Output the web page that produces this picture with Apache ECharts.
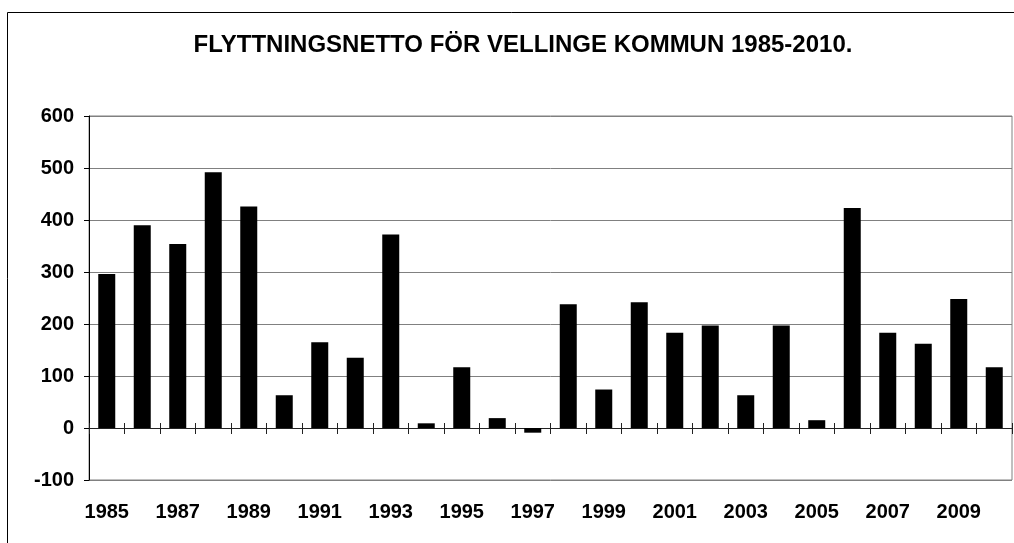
<!DOCTYPE html>
<html>
<head>
<meta charset="utf-8">
<script src="https://cdn.jsdelivr.net/npm/echarts@6/dist/echarts.min.js"></script>
<style>
  html, body { margin: 0; padding: 0; background: #fff; }
  #chart { width: 1014px; height: 543px; }
</style>
</head>
<body>
<div id="chart"></div>
<script>
// flyttningsnetto per år
var years = ['1985', '1986', '1987', '1988', '1989', '1990', '1991', '1992', '1993', '1994',
    '1995', '1996', '1997', '1998', '1999', '2000', '2001', '2002', '2003', '2004',
    '2005', '2006', '2007', '2008', '2009', '2010'];
var netto = [296, 390, 354, 492, 426, 63, 165, 135, 372, 9,
    117, 19, -9, 238, 74, 242, 183, 197, 63, 197,
    15, 423, 183, 162, 248, 117];
var yTicks = { min: -100, max: 600, step: 100 };

var font = '"Liberation Sans", Arial, Helvetica, sans-serif';

var myChart = echarts.init(document.getElementById('chart'));
var option = {
    backgroundColor: '#fff',
    animation: false,
    title: {
        text: 'FLYTTNINGSNETTO FÖR VELLINGE KOMMUN 1985-2010.',
        left: 518,
        top: 28,
        textAlign: 'center',
        textStyle: {
            fontFamily: font,
            fontWeight: 'bold',
            fontSize: 24,
            color: '#000'
        }
    },
    graphic: [
        {
            type: 'rect',
            shape: { x: 7.5, y: 12.5, width: 1100, height: 600 },
            style: { fill: null, stroke: '#000', lineWidth: 1 },
            silent: true
        }
    ],
    grid: {
        left: 89,
        right: 2,
        top: 116,
        bottom: 63,
        show: true,
        borderColor: '#808080',
        borderWidth: 1,
        containLabel: false
    },
    xAxis: [
        {
            // axis line at zero, ticks downward
            type: 'category',
            data: years,
            position: 'bottom',
            axisLine: { onZero: true, onZeroAxisIndex: 0, lineStyle: { color: '#222', width: 1 } },
            axisTick: { show: true, interval: 0, length: 6, lineStyle: { color: '#222' } },
            axisLabel: { show: false },
            splitLine: { show: false }
        },
        {
            // ticks upward from zero
            type: 'category',
            data: years,
            position: 'top',
            axisLine: { show: false, onZero: true, onZeroAxisIndex: 0 },
            axisTick: { show: true, interval: 0, length: 5, lineStyle: { color: '#222' } },
            axisLabel: { show: false },
            splitLine: { show: false }
        },
        {
            // year labels at bottom
            type: 'category',
            data: years,
            position: 'bottom',
            axisLine: { show: false, onZero: false },
            axisTick: { show: false },
            axisLabel: {
                interval: 1,
                margin: 22,
                fontFamily: font,
                fontWeight: 'bold',
                fontSize: 20,
                color: '#000'
            },
            splitLine: { show: false }
        }
    ],
    yAxis: {
        type: 'value',
        min: yTicks.min,
        max: yTicks.max,
        interval: yTicks.step,
        axisLine: { show: true, lineStyle: { color: '#000', width: 1 } },
        axisTick: { show: true, length: 5, lineStyle: { color: '#000' } },
        axisLabel: {
            margin: 15,
            fontFamily: font,
            fontWeight: 'bold',
            fontSize: 20,
            color: '#000'
        },
        splitLine: { show: true, lineStyle: { color: '#808080', width: 1 } }
    },
    series: [
        {
            name: 'Flyttningsnetto',
            type: 'bar',
            xAxisIndex: 0,
            barWidth: 17,
            itemStyle: { color: '#000' },
            data: netto
        }
    ]
};
myChart.setOption(option);
</script>
</body>
</html>
